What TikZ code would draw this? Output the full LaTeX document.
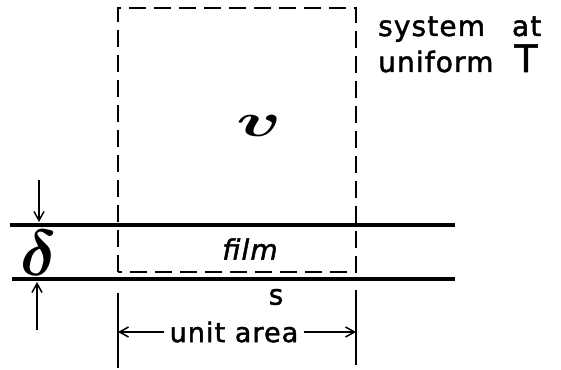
\documentclass[tikz,border=0pt]{standalone}
\usepackage{amsmath,amssymb}
\usepackage{fontspec}
\setsansfont{DejaVu Sans}[LetterSpace=4,FakeBold=1.6]
\usetikzlibrary{arrows.meta}
\newcommand{\filmvol}{\scalebox{3}[1.9]{$\boldsymbol{v}$}}

\begin{document}
\begin{tikzpicture}[x=1pt,y=1pt,font=\sffamily\fontsize{28}{32}\selectfont,
  wall/.style={line width=3.4pt},
  ctrl/.style={line width=1.9pt,dash pattern=on 17pt off 8pt},
  ext/.style={line width=1.5pt},
  dim/.style={line width=1.5pt,-{Straight Barb[length=9pt,width=10pt]}}]
  \useasboundingbox (0,0) rectangle (561,369);
  % control volume and film walls
  \draw[ctrl] (118,97) rectangle (356,361);
  \draw[wall] (10,144) -- (455,144);
  \draw[wall] (12,90) -- (455,90);
  % labels
  \node (vol) at (259,243) {\filmvol};
  \node (film) at (250,120) {\itshape film};
  \node (surf) at (276,72) {s};
  \node (delta) at (39,116) {\scalebox{2.6}{$\boldsymbol{\delta}$}};
  \node[anchor=base west,inner sep=0pt] (sys) at (378,333) {system\hspace{27pt}at};
  \node[anchor=base west,inner sep=0pt] (unif) at (378,297) {uniform\hspace{21pt}\scalebox{1.35}{T}};
  % thickness arrows
  \coordinate (dtop) at (39,189);  \coordinate (dtopend) at (39,147);
  \coordinate (dbot) at (37,39);   \coordinate (dbotend) at (37,87);
  \draw[dim] (dtop) -- (dtopend);
  \draw[dim] (dbot) -- (dbotend);
  % unit area
  \coordinate (extL) at (118,76);  \coordinate (extLb) at (118,1);
  \coordinate (extR) at (356,79);  \coordinate (extRb) at (356,4);
  \draw[ext] (extL) -- (extLb);
  \draw[ext] (extR) -- (extRb);
  \node[inner sep=5pt,font=\sffamily\fontsize{27}{31}\selectfont] (area) at (234,37) {unit area};
  \draw[dim] (area.west) -- (extL |- area.west);
  \draw[dim] (area.east) -- (extR |- area.east);
\end{tikzpicture}
\end{document}
